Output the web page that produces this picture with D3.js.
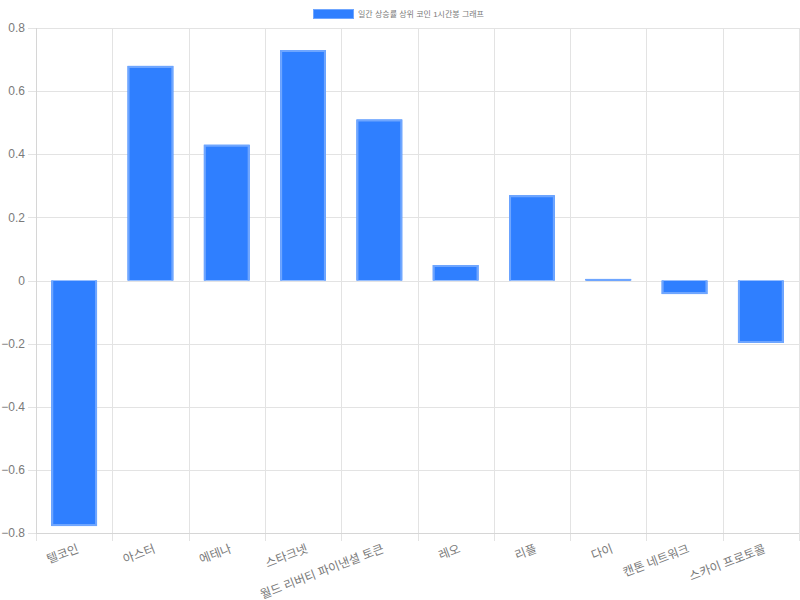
<!DOCTYPE html>
<html>
<head>
<meta charset="utf-8">
<script src="https://d3js.org/d3.v7.min.js"></script>
<style>
body { margin: 0; background: #fff; }
svg text { font-family: "Liberation Sans", Arial, "Noto Sans CJK KR", sans-serif; fill: #7a7a7a; }
</style>
</head>
<body>
<svg id="chart" width="800" height="600"></svg>
<script>
// data
var coins = ["텔코인", "아스터", "에테나", "스타크넷", "월드 리버티 파이낸셜 토큰", "레오", "리플", "다이", "캔톤 네트워크", "스카이 프로토콜"];
var changes = [-0.778, 0.68, 0.43, 0.73, 0.51, 0.049, 0.27, 0.005, -0.043, -0.198];
var yTicks = [-0.8, -0.6, -0.4, -0.2, 0, 0.2, 0.4, 0.6, 0.8];
var legendLabel = "일간 상승률 상위 코인 1시간봉 그래프";

var m = { left: 36, right: 799, top: 28, bottom: 533 };
var svg = d3.select("#chart");

var x = d3.scaleBand().domain(coins).range([m.left, m.right]);
var y = d3.scaleLinear().domain([-0.8, 0.8]).range([m.bottom, m.top]);

var grid = svg.append("g");
// horizontal grid + ticks
grid.selectAll(".hg").data(yTicks).enter().append("line")
    .attr("x1", m.left - 8).attr("x2", m.right)
    .attr("y1", function(d) { return Math.round(y(d)) + 0.5; })
    .attr("y2", function(d) { return Math.round(y(d)) + 0.5; })
    .attr("stroke", "#e3e3e3");
// vertical grid lines at band edges
var edges = coins.map(function(c) { return x(c); }).concat([m.right]);
grid.selectAll(".vg").data(edges).enter().append("line")
    .attr("x1", function(d) { return Math.round(d) + 0.5; })
    .attr("x2", function(d) { return Math.round(d) + 0.5; })
    .attr("y1", m.top).attr("y2", m.bottom + 8)
    .attr("stroke", "#e3e3e3");
// axis lines
svg.append("line").attr("x1", m.left + 0.5).attr("x2", m.left + 0.5)
    .attr("y1", m.top).attr("y2", m.bottom).attr("stroke", "#d6d6d6");
svg.append("line").attr("x1", m.left).attr("x2", m.right)
    .attr("y1", m.bottom + 0.5).attr("y2", m.bottom + 0.5).attr("stroke", "#d6d6d6");

// y labels
svg.selectAll(".yl").data(yTicks).enter().append("text")
    .attr("x", m.left - 11)
    .attr("y", function(d) { return y(d); })
    .attr("dy", "0.35em")
    .attr("text-anchor", "end")
    .attr("font-size", 12)
    .text(function(d) { return d === 0 ? "0" : d3.format(".1f")(d); });

// bars
var bw = x.bandwidth() * 0.6;
var bars = svg.append("g");
coins.forEach(function(c, i) {
    var v = changes[i];
    var x0 = x(c) + (x.bandwidth() - bw) / 2, x1 = x0 + bw;
    var y0 = y(0), y1 = y(v);
    bars.append("rect")
        .attr("x", x0).attr("width", bw)
        .attr("y", Math.min(y0, y1)).attr("height", Math.abs(y1 - y0))
        .attr("fill", "#2f7fff");
    bars.append("path")
        .attr("d", "M" + (x0 + 1) + "," + y0 + "L" + (x0 + 1) + "," + (y1 + (v > 0 ? 1 : -1)) +
            "L" + (x1 - 1) + "," + (y1 + (v > 0 ? 1 : -1)) + "L" + (x1 - 1) + "," + y0)
        .attr("fill", "none")
        .attr("stroke", "#6fa6ff")
        .attr("stroke-width", 2);
});

// x labels, rotated
svg.selectAll(".xl").data(coins).enter().append("text")
    .attr("transform", function(d) {
        return "translate(" + (x(d) + x.bandwidth() / 2 + 4) + "," + (m.bottom + 15) + ") rotate(-21)";
    })
    .attr("text-anchor", "end")
    .attr("dy", "0.35em")
    .attr("font-size", 12)
    .attr("font-family", "Noto Sans CJK KR")
    .text(function(d) { return d; });

// legend
var lg = svg.append("g");
lg.append("rect").attr("x", 313.5).attr("y", 9.5).attr("width", 40).attr("height", 9)
    .attr("fill", "#2f7fff").attr("stroke", "#6fa6ff");
lg.append("text").attr("x", 358).attr("y", 14).attr("dy", "0.35em")
    .attr("font-size", 8).attr("font-family", "Noto Sans CJK KR")
    .text(legendLabel);
</script>
</body>
</html>
